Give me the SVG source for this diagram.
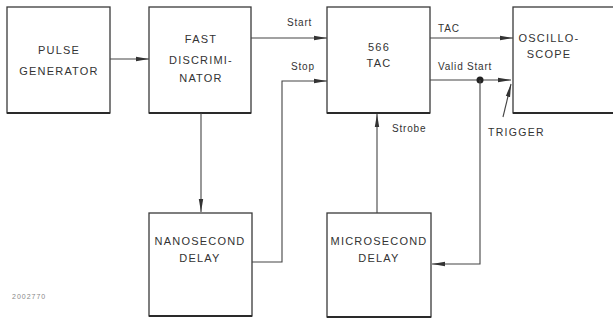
<svg xmlns="http://www.w3.org/2000/svg" width="613" height="321" viewBox="0 0 613 321">
<defs>
<style>
.box{fill:#fff;stroke:#3a3a3a;stroke-width:1.3}
.sh{stroke:#2a2a2a;stroke-width:2.2}
.t{font-family:"Liberation Sans",Arial,sans-serif;font-size:11px;fill:#333;text-anchor:middle;letter-spacing:1.2px}
.l{font-family:"Liberation Sans",Arial,sans-serif;font-size:10px;fill:#333;letter-spacing:0.8px}
.w{fill:none;stroke:#444;stroke-width:1.1}
</style>
<marker id="a" markerWidth="14" markerHeight="6" refX="13" refY="3" orient="auto" markerUnits="userSpaceOnUse">
<path d="M0,0.8 L13,3 L0,5.2 Z" fill="#333"/>
</marker>
</defs>
<rect width="613" height="321" fill="#fff"/>
<g id="pulse">
<rect class="box" x="7" y="7" width="103" height="106"/>
<line class="sh" x1="7" y1="113" x2="110" y2="113"/>
<text class="t" x="59" y="54">PULSE</text>
<text class="t" x="59" y="75">GENERATOR</text>
</g>
<g id="fastdisc">
<rect class="box" x="149" y="7" width="102" height="106"/>
<line class="sh" x1="149" y1="113" x2="251" y2="113"/>
<text class="t" x="201" y="43">FAST</text>
<text class="t" x="201" y="64">DISCRIMI-</text>
<text class="t" x="201" y="82">NATOR</text>
</g>
<g id="tac">
<rect class="box" x="327" y="7" width="103" height="106"/>
<line class="sh" x1="327" y1="113" x2="430" y2="113"/>
<text class="t" x="379" y="51">566</text>
<text class="t" x="379" y="67">TAC</text>
</g>
<g id="osc">
<rect class="box" x="513" y="7" width="110" height="106"/>
<line class="sh" x1="513" y1="113" x2="613" y2="113"/>
<text class="t" x="549" y="42">OSCILLO-</text>
<text class="t" x="549" y="58">SCOPE</text>
</g>
<g id="nano">
<rect class="box" x="149" y="213" width="103" height="103"/>
<line class="sh" x1="149" y1="316" x2="252" y2="316"/>
<text class="t" x="200" y="245">NANOSECOND</text>
<text class="t" x="200" y="262">DELAY</text>
</g>
<g id="micro">
<rect class="box" x="327" y="213" width="104" height="104"/>
<line class="sh" x1="327" y1="317" x2="431" y2="317"/>
<text class="t" x="379" y="245">MICROSECOND</text>
<text class="t" x="379" y="262">DELAY</text>
</g>
<g id="connectors">
<line class="w" x1="110" y1="59" x2="149" y2="59" marker-end="url(#a)"/>
<line class="w" x1="251" y1="38" x2="327" y2="38" marker-end="url(#a)"/>
<polyline class="w" points="252,262 282,262 282,81 327,81" marker-end="url(#a)"/>
<line class="w" x1="201" y1="113" x2="201" y2="212" marker-end="url(#a)"/>
<line class="w" x1="377" y1="213" x2="377" y2="114" marker-end="url(#a)"/>
<line class="w" x1="430" y1="38" x2="513" y2="38" marker-end="url(#a)"/>
<line class="w" x1="430" y1="80" x2="511" y2="80" marker-end="url(#a)"/>
<circle cx="480" cy="80" r="3.5" fill="#222"/>
<polyline class="w" points="480,80 480,264 432,264" marker-end="url(#a)"/>
<line class="w" x1="503" y1="117" x2="511" y2="84" marker-end="url(#a)"/>
</g>
<text class="l" x="287" y="26">Start</text>
<text class="l" x="291" y="70">Stop</text>
<text class="l" x="438" y="32">TAC</text>
<text class="l" x="438" y="70">Valid Start</text>
<text class="l" x="392" y="132">Strobe</text>
<text class="l" x="488" y="136" style="font-size:10.5px;letter-spacing:1.3px">TRIGGER</text>
<text x="12" y="299" style="font-family:'Liberation Sans',Arial,sans-serif;font-size:7px;fill:#888;letter-spacing:1px">2002770</text>
</svg>
